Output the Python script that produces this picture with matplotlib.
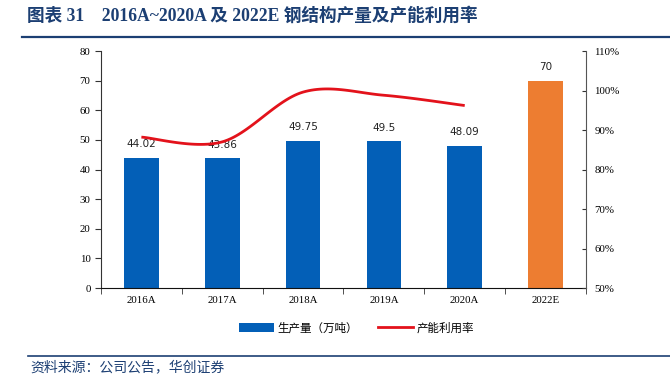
#!/usr/bin/env python3
import numpy as np
import matplotlib.pyplot as plt
from matplotlib.lines import Line2D
from matplotlib.patches import Patch

# data
years = ["2016A", "2017A", "2018A", "2019A", "2020A", "2022E"]
output = [44.02, 43.86, 49.75, 49.5, 48.09, 70]
util_years = ["2016A", "2017A", "2018A", "2019A", "2020A"]
utilization = [88.2, 87.0, 99.6, 98.8, 96.2]

CJK = ["Noto Sans CJK SC", "DejaVu Sans"]
SERIF = ["Liberation Serif", "Noto Sans CJK SC"]
NAVY = "#1c3f73"

plt.rcParams["font.family"] = CJK


# smoothed line through the points (Catmull-Rom, like a spreadsheet "smooth line")
def smooth(x, y, n=30):
    x = np.asarray(x, float)
    y = np.asarray(y, float)
    px = np.concatenate([[x[0]], x, [x[-1]]])
    py = np.concatenate([[y[0]], y, [y[-1]]])
    xs, ys = [], []
    t = np.linspace(0, 1, n)
    for i in range(1, len(px) - 2):
        for p, out in ((px, xs), (py, ys)):
            p0, p1, p2, p3 = p[i - 1], p[i], p[i + 1], p[i + 2]
            m1 = (p2 - p0) / 2
            m2 = (p3 - p1) / 2
            h00 = 2 * t**3 - 3 * t**2 + 1
            h10 = t**3 - 2 * t**2 + t
            h01 = -2 * t**3 + 3 * t**2
            h11 = t**3 - t**2
            out.extend(h00 * p1 + h10 * m1 + h01 * p2 + h11 * m2)
    return np.array(xs), np.array(ys)


fig = plt.figure(figsize=(6.7, 3.74), dpi=100)
ax = fig.add_axes([0.1507, 0.2299, 0.7239, 0.6337])

xpos = np.arange(len(years))
colors = ["#035fb7"] * 5 + ["#ed7d31"]
bars = ax.bar(xpos, output, width=0.43, color=colors, zorder=2)
for x, v in zip(xpos, output):
    ax.annotate(f"{v:g}", (x, v), xytext=(0, 6), textcoords="offset points",
                ha="center", va="bottom", fontsize=7.5, family="DejaVu Sans",
                color="#222222")

ax.set_xlim(-0.5, len(years) - 0.5)
ax.set_ylim(0, 80)
ax.set_yticks(range(0, 81, 10))
ax.set_xticks(xpos)
ax.set_xticklabels(years)
ax.set_xticks(np.arange(-0.5, len(years), 1), minor=True)
ax.tick_params(axis="x", which="major", length=0, pad=6)
ax.tick_params(axis="x", which="minor", length=4, direction="out", color="#333333")
ax.tick_params(axis="y", length=4, direction="out", color="#333333")
for lab in ax.get_xticklabels() + ax.get_yticklabels():
    lab.set_family(SERIF)
    lab.set_fontsize(7.8)
ax.spines["top"].set_visible(False)
ax.spines["right"].set_visible(False)
ax.spines["left"].set_color("#333333")
ax.spines["bottom"].set_color("#111111")

ax2 = ax.twinx()
ax2.set_ylim(50, 110)
ax2.set_yticks(range(50, 111, 10))
ax2.set_yticklabels([f"{v}%" for v in range(50, 111, 10)])
ax2.tick_params(axis="y", length=3, direction="in", color="#333333", pad=6)
for lab in ax2.get_yticklabels():
    lab.set_family(SERIF)
    lab.set_fontsize(7.8)
ax2.spines["top"].set_visible(False)
ax2.spines["left"].set_visible(False)
ax2.spines["bottom"].set_visible(False)
ax2.spines["right"].set_color("#555555")

ux = [years.index(y) for y in util_years]
sx, sy = smooth(ux, utilization)
ax2.plot(sx, sy, color="#e3121b", lw=2, solid_capstyle="butt")

# legend below the chart
handles = [Patch(facecolor="#035fb7", edgecolor="none"),
           Line2D([0], [0], color="#e3121b", lw=2)]
fig.legend(handles, ["生产量（万吨）", "产能利用率"], loc="center",
           bbox_to_anchor=(0.532, 0.123), ncol=2, frameon=False, fontsize=8.3,
           handlelength=3.0, handleheight=0.9, columnspacing=1.8, handletextpad=0.3)

# title and footer
fig.text(0.04, 0.957, "图表 31    2016A~2020A 及 2022E 钢结构产量及产能利用率",
         family=SERIF, fontsize=12.7, fontweight="bold", color=NAVY, va="center")
fig.add_artist(Line2D([0.033, 1.0], [0.9, 0.9], color=NAVY, lw=1.6))
fig.add_artist(Line2D([0.042, 1.0], [0.048, 0.048], color=NAVY, lw=1.2))
fig.text(0.045, 0.017, "资料来源：公司公告，华创证券", family=CJK, fontsize=10,
         style="italic", color=NAVY, va="center")

plt.savefig("out.png", dpi=100)
